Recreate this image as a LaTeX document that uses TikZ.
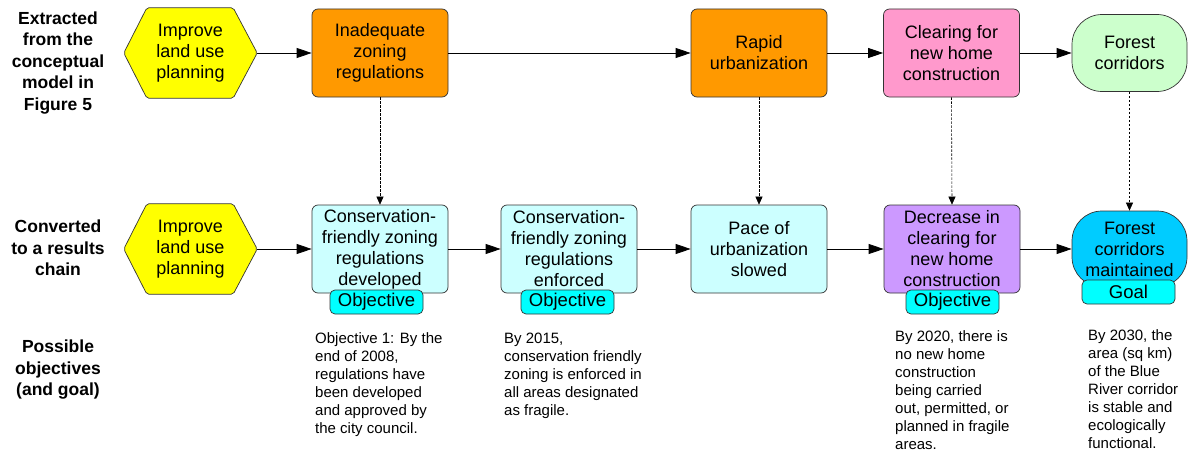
\documentclass[tikz,border=0pt]{standalone}
\usepackage{fontspec}
\setmainfont{Liberation Sans}
\usetikzlibrary{arrows.meta,backgrounds}
\definecolor{hexyellow}{HTML}{FFFF00}
\definecolor{orangefill}{HTML}{FF9900}
\definecolor{pinkfill}{HTML}{FF99CC}
\definecolor{greenfill}{HTML}{CCFFCC}
\definecolor{lcyanfill}{HTML}{CCFFFF}
\definecolor{purplefill}{HTML}{CC99FF}
\definecolor{tagfill}{HTML}{00FFFF}
\definecolor{bluefill}{HTML}{00CCFF}
\definecolor{edgegray}{HTML}{333333}
\begin{document}
\begin{tikzpicture}[x=1pt,y=-1pt,
  box/.style={draw=edgegray, line width=0.7pt, rounded corners=6pt, minimum width=136pt, minimum height=88pt, align=center, inner sep=1pt, font=\fontsize{18}{21}\selectfont},
  hexnode/.style={minimum width=133pt, minimum height=90pt, align=center, inner sep=0pt, font=\fontsize{18}{21}\selectfont},
  hexdraw/.style={draw=edgegray, line width=0.7pt, fill=hexyellow, rounded corners=2pt},
  tagbox/.style={draw=edgegray, line width=0.7pt, rounded corners=5pt, fill=tagfill, minimum width=93pt, minimum height=24pt, inner sep=0pt, font=\fontsize{18.5}{21}\selectfont},
  blob/.style={draw=edgegray, line width=0.7pt, rounded corners=30pt, minimum width=115pt, minimum height=77pt, align=center, inner sep=1pt, font=\fontsize{18}{21}\selectfont},
  arr/.style={-{Triangle[length=15pt,width=10pt]}, line width=0.8pt},
  darr/.style={-{Triangle[length=8pt,width=7pt]}, line width=0.6pt, dash pattern=on 2.5pt off 1.5pt},
  desc/.style={anchor=north west, align=left, inner sep=0pt, font=\fontsize{15}{18}\selectfont},
  side/.style={align=center, inner sep=0pt, font=\bfseries\fontsize{17.5}{21.5}\selectfont}
]
\useasboundingbox (0,0) rectangle (1189,452);

% side labels
\node[side] (l1) at (58,63) {Extracted\\from the\\conceptual\\model in\\Figure 5};
\node[side] (l2) at (58,248) {Converted\\to a results\\chain};
\node[side] (l3) at (58,370) {Possible\\objectives\\(and goal)};

% row 1
\node[hexnode] (h1) at (190.5,53) {Improve\\land use\\planning};
\node[box, fill=orangefill] (a1) at (380,53) {Inadequate\\zoning\\regulations};
\node[box, fill=orangefill] (a2) at (759,53) {Rapid\\urbanization};
\node[box, fill=pinkfill] (a3) at (951.5,53) {Clearing for\\new home\\construction};
\node[blob, fill=greenfill] (a4) at (1129.5,53) {Forest\\corridors};

% row 2
\node[hexnode] (h2) at (190.5,249) {Improve\\land use\\planning};
\node[box, fill=lcyanfill] (b1) at (380,249) {Conservation-\\friendly zoning\\regulations\\developed};
\node[box, fill=lcyanfill] (b2) at (569,249) {Conservation-\\friendly zoning\\regulations\\enforced};
\node[box, fill=lcyanfill] (b3) at (759,249) {Pace of\\urbanization\\slowed};
\node[box, fill=purplefill] (b4) at (952,249) {Decrease in\\clearing for\\new home\\construction};
\node[blob, fill=bluefill, minimum height=76pt] (b5) at (1129.5,249) {Forest\\corridors\\maintained};

% tags
\node[tagbox] (t1) at (376.5,302) {Objective};
\node[tagbox] (t2) at (567.5,302) {Objective};
\node[tagbox] (t3) at (952.5,302) {Objective};
\node[tagbox] (t4) at (1128.5,292) {Goal};

% hexagon outlines
\begin{scope}[on background layer]
\foreach \h in {h1,h2}
  \draw[hexdraw] (\h.west) -- ([xshift=23pt]\h.north west) -- ([xshift=-24pt]\h.north east) -- (\h.east) -- ([xshift=-24pt]\h.south east) -- ([xshift=23pt]\h.south west) -- cycle;
\end{scope}

% solid arrows
\draw[arr] (h1.east) -- (a1.west);
\draw[arr] (a1.east) -- (a2.west);
\draw[arr] (a2.east) -- (a3.west);
\draw[arr] (a3.east) -- (a4.west);
\draw[arr] (h2.east) -- (b1.west);
\draw[arr] (b1.east) -- (b2.west);
\draw[arr] (b2.east) -- (b3.west);
\draw[arr] (b3.east) -- (b4.west);
\draw[arr] (b4.east) -- (b5.west);

% dashed arrows
\draw[darr] (a1.south) -- (b1.north);
\draw[darr] (a2.south) -- (b3.north);
\draw[darr] (a3.south) -- (b4.north);
\draw[darr] (a4.south) -- (b5.north);

% descriptions
\node[desc] (d1) at (315,332) {Objective 1: By the\\end of 2008,\\regulations have\\been developed\\and approved by\\the city council.};
\node[desc] (d2) at (504,333) {By 2015,\\conservation friendly\\zoning is enforced in\\all areas designated\\as fragile.};
\node[desc] (d3) at (895,330) {By 2020, there is\\no new home\\construction\\being carried\\out, permitted, or\\planned in fragile\\areas.};
\node[desc] (d4) at (1088,329) {By 2030, the\\area (sq km)\\of the Blue\\River corridor\\is stable and\\ecologically\\functional.};
\end{tikzpicture}
\end{document}
